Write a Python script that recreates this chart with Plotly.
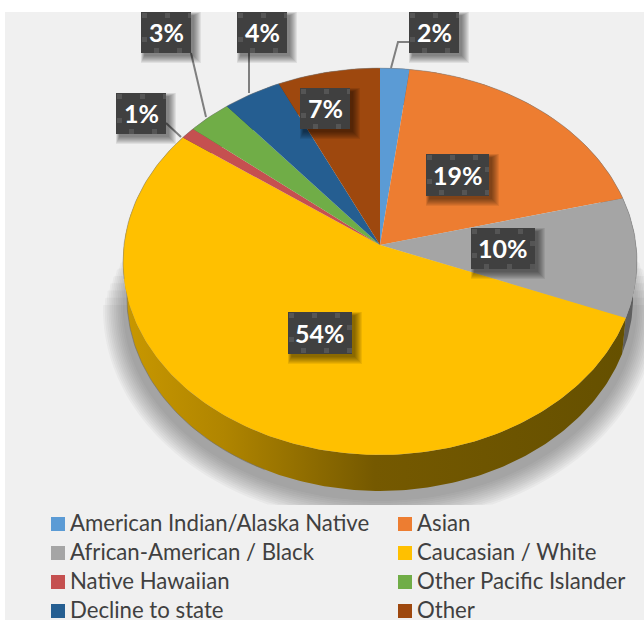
import numpy as np
import plotly.graph_objects as go

# Survey breakdown, clockwise from twelve o'clock
categories = ["American Indian/Alaska Native", "Asian", "African-American / Black",
              "Caucasian / White", "Native Hawaiian", "Other Pacific Islander",
              "Decline to state", "Other"]
percent = [2, 19, 10, 54, 1, 3, 4, 7]
colors = ["#5b9bd5", "#ed7d31", "#a5a5a5", "#ffc000", "#c55050", "#70ad47", "#255e91", "#9e480e"]
wall_colors = ["#3c6690", "#9c5220", "#5f5f5f", "#7d5f00", "#803434", "#4a722f", "#183e60", "#682f09"]

# Pie geometry in screen units: apex, radii, perspective strength, extrusion depth
CX, CY = 380.0, 245.0
KX, KY = 256.0, 192.0
PERSP = 0.0853
DEPTH = 36.0
BASE_NARROW = 0.985


def rim(theta_deg, grow=0.0):
    t = np.radians(theta_deg)
    u, v = np.sin(t), np.cos(t)
    d = 1 + PERSP * v
    return CX + (KX + grow) * u / d, CY - (KY + grow) * v / d


edges = np.concatenate([[0], np.cumsum(percent)]) * 3.6
fig = go.Figure()
shapes = []
annotations = []

# Soft drop shadow: stacked translucent outlines, each starting lower than the last
for g in np.linspace(0, 20, 12):
    sx, sy = rim(np.linspace(0, 360, 181), g)
    sy = np.clip(sy + DEPTH + 10, 225 + g * 4, 505)
    path = "M " + " L ".join(f"{a:.1f} {b:.1f}" for a, b in zip(sx, sy)) + " Z"
    shapes.append(dict(type="path", path=path, xref="x", yref="y", layer="below",
                       line=dict(width=0, color="rgba(0,0,0,0)"),
                       fillcolor="#282828", opacity=0.04))

# Side wall of each slice
for i, name in enumerate(categories):
    th = np.linspace(edges[i], edges[i + 1], max(int(percent[i] * 4), 4) + 1)
    x, y = rim(th)
    wx = np.concatenate([x, (CX + (x - CX) * BASE_NARROW)[::-1]])
    wy = np.concatenate([y, y[::-1] + DEPTH])
    kw = dict(fillcolor=wall_colors[i])
    if name == "Caucasian / White":
        kw = dict(fillgradient=dict(
            type="horizontal",
            colorscale=[[0, "#c99800"], [0.2, "#b08500"], [0.5, "#755900"], [1, "#655000"]]))
    fig.add_trace(go.Scatter(x=wx, y=wy, mode="lines", fill="toself", line=dict(width=0),
                             hoverinfo="skip", showlegend=False, **kw))

# Outline along the lower left edge of the wall
ox, oy = rim(np.linspace(205, 290, 100))
fig.add_trace(go.Scatter(x=CX + (ox - CX) * BASE_NARROW, y=oy + DEPTH, mode="lines",
                         line=dict(color="rgba(110,110,110,0.6)", width=1),
                         hoverinfo="skip", showlegend=False))

# Top face of each slice
for i, name in enumerate(categories):
    th = np.linspace(edges[i], edges[i + 1], max(int(percent[i] * 4), 4) + 1)
    x, y = rim(th)
    fig.add_trace(go.Scatter(
        x=np.concatenate([[CX], x, [CX]]), y=np.concatenate([[CY], y, [CY]]),
        mode="lines", fill="toself", fillcolor=colors[i], line=dict(width=0),
        name=name, hoverinfo="skip", showlegend=False))

# Thin rim around the upper part of the top face
ox, oy = rim(np.linspace(-100, 100, 160))
fig.add_trace(go.Scatter(x=ox, y=oy, mode="lines", line=dict(color="rgba(130,130,130,0.5)", width=1),
                         hoverinfo="skip", showlegend=False))

# Legend block: two columns, four rows, running to the bottom of the page
for i, name in enumerate(categories):
    col, row = i % 2, i // 2
    fig.add_trace(go.Scatter(
        x=[58 + col * 347], y=[524 + row * 29], mode="markers", cliponaxis=False,
        marker=dict(symbol="square", size=14, color=colors[i], line=dict(width=0)),
        hoverinfo="skip", showlegend=False))

# Dark value tags with a small square texture
TEXTURE = [(1, 1), (24, 1), (47, 1), (59, 13), (1, 25), (13, 36), (36, 36), (59, 36)]


def tag(x0, y0, w, h, text):
    for k in range(1, 9):
        shapes.append(dict(type="rect", xref="x", yref="y", x0=x0 + 4 - k * 0.5, y0=y0 + 4 - k * 0.5,
                           x1=x0 + w + 2 + k, y1=y0 + h + 2 + k, line_width=0,
                           fillcolor="rgba(0,0,0,0.07)"))
    shapes.append(dict(type="rect", xref="x", yref="y", x0=x0, y0=y0, x1=x0 + w, y1=y0 + h,
                       line_width=0, fillcolor="#404040"))
    for sx, sy in TEXTURE:
        if sx + 5 <= w + 2:
            shapes.append(dict(type="rect", xref="x", yref="y", x0=x0 + sx, y0=y0 + sy,
                               x1=min(x0 + sx + 5, x0 + w), y1=y0 + sy + 5,
                               line_width=0, fillcolor="#555555"))
    annotations.append(dict(x=x0 + w / 2, y=y0 + h / 2 - 0.5, xref="x", yref="y", text=f"<b>{text}</b>",
                            showarrow=False, font=dict(family="Lato", size=25, color="white")))


def leader(points):
    fig.add_trace(go.Scatter(x=[p[0] for p in points], y=[p[1] for p in points], mode="lines",
                             line=dict(color="#7f7f7f", width=2), hoverinfo="skip", showlegend=False))


leader([(391, 68), (398, 42), (410, 42)])
leader([(206, 117), (191, 53)])
leader([(249, 93), (249, 53)])
leader([(181, 137), (166, 123)])

tag(409, 12, 50, 41, f"{percent[0]}%")
tag(426, 154, 63, 42, f"{percent[1]}%")
tag(471, 228, 64, 41, f"{percent[2]}%")
tag(288, 312, 64, 42, f"{percent[3]}%")
tag(116, 93, 50, 41, f"{percent[4]}%")
tag(141, 12, 50, 41, f"{percent[5]}%")
tag(237, 12, 50, 41, f"{percent[6]}%")
tag(300, 88, 50, 41, f"{percent[7]}%")

# Legend captions sit just right of their swatches
for i, name in enumerate(categories):
    col, row = i % 2, i // 2
    annotations.append(dict(x=70 + col * 347, y=522 + row * 29, xref="x", yref="y", text=name,
                            xanchor="left", showarrow=False, xshift=-2.5, captureevents=False,
                            font=dict(family="Lato", size=22.2, color="#404040")))

fig.update_layout(
    width=644, height=620, showlegend=False,
    margin=dict(l=5, r=0, t=12, b=0),
    paper_bgcolor="white", plot_bgcolor="#f0f0f0",
    xaxis=dict(range=[5, 644], visible=False, fixedrange=True),
    yaxis=dict(range=[620, 12], visible=False, fixedrange=True),
    shapes=shapes, annotations=annotations,
)
fig.write_html("out.html", config=dict(displayModeBar=False))
